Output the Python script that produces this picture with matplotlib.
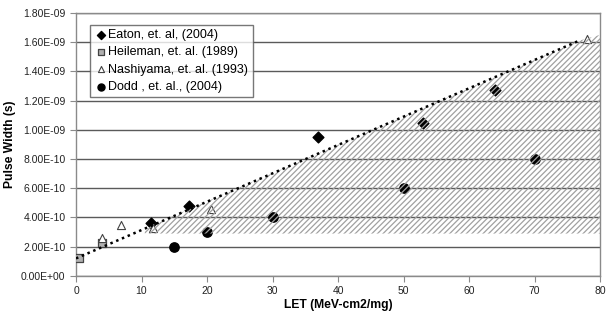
import numpy as np
import matplotlib
matplotlib.use("Agg")
import matplotlib.pyplot as plt
from matplotlib.patches import Polygon
from matplotlib.ticker import FuncFormatter

plt.rcParams['font.family'] = ['Liberation Sans', 'DejaVu Sans']
plt.rcParams['hatch.linewidth'] = 0.9

# -----------------------------
# DATA
# -----------------------------
eaton_let = [11.5, 17.2, 37.0, 53.0, 64.0]
eaton_pw = [3.6e-10, 4.8e-10, 9.5e-10, 1.05e-9, 1.27e-9]

heileman_let = [0.5, 3.9]
heileman_pw = [1.25e-10, 2.25e-10]

nashiyama_let = [4.0, 6.8, 11.7, 20.6, 78.0]
nashiyama_pw = [2.6e-10, 3.5e-10, 3.3e-10, 4.6e-10, 1.62e-9]

dodd_let = [15.0, 20.0, 30.0, 50.0, 70.0]
dodd_pw = [2.0e-10, 3.0e-10, 4.05e-10, 6.0e-10, 8.0e-10]

# linear trend (dotted) and shaded envelope
trend_x = [0.0, 76.8]
trend_y = [1.2e-10, 1.61e-9]
band_x = [10.5, 76.8, 80.0, 80.0, 10.5]
band_y = [3.25e-10, 1.61e-9, 1.65e-9, 2.9e-10, 2.9e-10]

# -----------------------------
# PLOT
# -----------------------------
fig = plt.figure(figsize=(6.08, 3.15), dpi=100)
ax = fig.add_axes([0.125, 0.124, 0.862, 0.835])

ax.set_xlim(0, 80)
ax.set_ylim(0, 1.8e-9)
ax.set_xticks(range(0, 81, 10))
ax.set_yticks(np.arange(0, 1.81e-9, 2e-10))
ax.yaxis.set_major_formatter(FuncFormatter(lambda v, p: f"{v:.2E}"))

ax.grid(True, axis='y', color='#5a5a5a', linewidth=1.0, zorder=0)
ax.set_axisbelow(True)
for s in ax.spines.values():
    s.set_color('#8a8a8a')
    s.set_linewidth(1.0)
ax.tick_params(axis='both', direction='out', color='#8a8a8a', length=4,
               labelsize=7.5, labelcolor='#222222')

ax.scatter(eaton_let, eaton_pw, marker='D', s=30, color='black', zorder=3,
           label='Eaton, et. al, (2004)')
ax.scatter(heileman_let, heileman_pw, marker='s', s=28, facecolor='#b0b0b0',
           edgecolor='#444444', linewidth=0.9, zorder=3, label='Heileman, et. al. (1989)')
ax.scatter(nashiyama_let, nashiyama_pw, marker='^', s=34, facecolor='white',
           edgecolor='#444444', linewidth=0.8, zorder=3, label='Nashiyama, et. al. (1993)')
ax.scatter(dodd_let, dodd_pw, marker='o', s=45, color='black', zorder=3,
           label='Dodd , et. al., (2004)')

band = Polygon(np.column_stack([band_x, band_y]), closed=True, facecolor='none',
               edgecolor='#a0a0a0', linewidth=0, hatch='//////', zorder=4, clip_on=False)
ax.add_patch(band)

ax.plot(trend_x, trend_y, linestyle=(0, (1, 1.5)), color='black', linewidth=1.8, zorder=5)

ax.set_xlabel("LET (MeV-cm2/mg)", fontsize=8.7, fontweight='bold', labelpad=2)
ax.set_ylabel("Pulse Width (s)", fontsize=8.7, fontweight='bold', labelpad=4)

leg = ax.legend(loc='upper left', bbox_to_anchor=(0.027, 0.955), fontsize=9,
                frameon=True, fancybox=False, handletextpad=0.1, handlelength=1.0,
                borderpad=0.35, labelspacing=0.42, borderaxespad=0, markerscale=0.75)
leg.get_frame().set_edgecolor('#555555')
leg.get_frame().set_linewidth(1.0)
leg.set_zorder(6)

fig.savefig("out.png", dpi=100)
